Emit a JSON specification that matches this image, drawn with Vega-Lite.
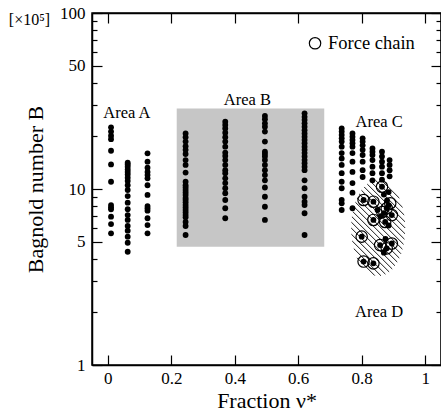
{
  "$schema": "https://vega.github.io/schema/vega-lite/v6.json",
  "width": 349,
  "height": 352,
  "autosize": {"type": "none"},
  "padding": {"left": 92, "top": 13, "right": 0, "bottom": 54},
  "background": "white",
  "config": {
    "view": {"stroke": "black", "strokeWidth": 1.5},
    "axis": {
      "labelFont": "Liberation Serif",
      "titleFont": "Liberation Serif",
      "labelColor": "black",
      "titleColor": "black",
      "domainColor": "black",
      "tickColor": "black",
      "domainWidth": 1.5,
      "tickWidth": 1.2,
      "grid": false,
      "labelFontSize": 17,
      "titleFontSize": 22,
      "titleFontWeight": "normal"
    }
  },
  "datasets": {
    "rectB": [{"x1": 0.217, "x2": 0.682, "y1": 4.7, "y2": 28.7}],
    "hatch": [
      {"x": 0.7854, "y": 4.063, "x2": 0.8414, "y2": 3.220},
      {"x": 0.7751, "y": 4.584, "x2": 0.8607, "y2": 3.215},
      {"x": 0.7701, "y": 5.064, "x2": 0.8749, "y2": 3.280},
      {"x": 0.7676, "y": 5.534, "x2": 0.8865, "y2": 3.381},
      {"x": 0.7669, "y": 6.003, "x2": 0.8963, "y2": 3.511},
      {"x": 0.7675, "y": 6.478, "x2": 0.9048, "y2": 3.665},
      {"x": 0.7692, "y": 6.956, "x2": 0.9121, "y2": 3.846},
      {"x": 0.7720, "y": 7.437, "x2": 0.9185, "y2": 4.052},
      {"x": 0.7757, "y": 7.925, "x2": 0.9239, "y2": 4.284},
      {"x": 0.7802, "y": 8.411, "x2": 0.9285, "y2": 4.548},
      {"x": 0.7856, "y": 8.895, "x2": 0.9321, "y2": 4.846},
      {"x": 0.7920, "y": 9.372, "x2": 0.9349, "y2": 5.183},
      {"x": 0.7993, "y": 9.833, "x2": 0.9366, "y2": 5.566},
      {"x": 0.8078, "y": 10.27, "x2": 0.9372, "y2": 6.003},
      {"x": 0.8176, "y": 10.66, "x2": 0.9365, "y2": 6.514},
      {"x": 0.8292, "y": 10.99, "x2": 0.9340, "y2": 7.118},
      {"x": 0.8434, "y": 11.21, "x2": 0.9290, "y2": 7.862},
      {"x": 0.8627, "y": 11.19, "x2": 0.9187, "y2": 8.874}
    ],
    "pts": [
      {"x": 0.01, "B": 22.4}, {"x": 0.01, "B": 21.2}, {"x": 0.01, "B": 20.1}, {"x": 0.01, "B": 19.2}, {"x": 0.01, "B": 16.5}, {"x": 0.01, "B": 13.8}, {"x": 0.01, "B": 11.0}, {"x": 0.01, "B": 8.1}, {"x": 0.01, "B": 7.87}, {"x": 0.01, "B": 7.67}, {"x": 0.01, "B": 6.96}, {"x": 0.01, "B": 6.32}, {"x": 0.01, "B": 5.6},
      {"x": 0.0625, "B": 14.1}, {"x": 0.0625, "B": 13.8}, {"x": 0.0625, "B": 13.4}, {"x": 0.0625, "B": 12.9}, {"x": 0.0625, "B": 12.5}, {"x": 0.0625, "B": 12.1}, {"x": 0.0625, "B": 11.6}, {"x": 0.0625, "B": 11.1}, {"x": 0.0625, "B": 10.5}, {"x": 0.0625, "B": 9.87}, {"x": 0.0625, "B": 9.12}, {"x": 0.0625, "B": 8.36}, {"x": 0.0625, "B": 7.67}, {"x": 0.0625, "B": 7.11}, {"x": 0.0625, "B": 6.67}, {"x": 0.0625, "B": 6.16}, {"x": 0.0625, "B": 5.8}, {"x": 0.0625, "B": 5.36}, {"x": 0.0625, "B": 4.95}, {"x": 0.0625, "B": 4.4},
      {"x": 0.125, "B": 15.95}, {"x": 0.125, "B": 14.3}, {"x": 0.125, "B": 13.2}, {"x": 0.125, "B": 12.5}, {"x": 0.125, "B": 12.0}, {"x": 0.125, "B": 11.5}, {"x": 0.125, "B": 10.5}, {"x": 0.125, "B": 9.25}, {"x": 0.125, "B": 8.0}, {"x": 0.125, "B": 7.77}, {"x": 0.125, "B": 7.53}, {"x": 0.125, "B": 6.82}, {"x": 0.125, "B": 6.24}, {"x": 0.125, "B": 5.6},
      {"x": 0.245, "B": 20.7}, {"x": 0.245, "B": 19.7}, {"x": 0.245, "B": 18.6}, {"x": 0.245, "B": 17.5}, {"x": 0.245, "B": 16.7}, {"x": 0.245, "B": 15.8}, {"x": 0.245, "B": 14.6}, {"x": 0.245, "B": 13.7}, {"x": 0.245, "B": 12.4}, {"x": 0.245, "B": 11.0}, {"x": 0.245, "B": 10.5}, {"x": 0.245, "B": 10.2}, {"x": 0.245, "B": 9.87}, {"x": 0.245, "B": 9.55}, {"x": 0.245, "B": 9.25}, {"x": 0.245, "B": 8.9}, {"x": 0.245, "B": 8.66}, {"x": 0.245, "B": 8.4}, {"x": 0.245, "B": 8.11}, {"x": 0.245, "B": 7.85}, {"x": 0.245, "B": 7.6}, {"x": 0.245, "B": 7.35}, {"x": 0.245, "B": 7.11}, {"x": 0.245, "B": 6.9}, {"x": 0.245, "B": 6.5}, {"x": 0.245, "B": 6.16}, {"x": 0.245, "B": 5.48},
      {"x": 0.37, "B": 24.1}, {"x": 0.37, "B": 23.1}, {"x": 0.37, "B": 22.1}, {"x": 0.37, "B": 20.9}, {"x": 0.37, "B": 19.7}, {"x": 0.37, "B": 18.6}, {"x": 0.37, "B": 17.4}, {"x": 0.37, "B": 16.1}, {"x": 0.37, "B": 15.4}, {"x": 0.37, "B": 14.6}, {"x": 0.37, "B": 13.7}, {"x": 0.37, "B": 12.8}, {"x": 0.37, "B": 12.3}, {"x": 0.37, "B": 11.5}, {"x": 0.37, "B": 10.8}, {"x": 0.37, "B": 10.1}, {"x": 0.37, "B": 9.46}, {"x": 0.37, "B": 8.66}, {"x": 0.37, "B": 7.77}, {"x": 0.37, "B": 6.82},
      {"x": 0.495, "B": 26.0}, {"x": 0.495, "B": 24.9}, {"x": 0.495, "B": 23.6}, {"x": 0.495, "B": 22.6}, {"x": 0.495, "B": 21.2}, {"x": 0.495, "B": 18.6}, {"x": 0.495, "B": 16.3}, {"x": 0.495, "B": 15.8}, {"x": 0.495, "B": 15.3}, {"x": 0.495, "B": 14.6}, {"x": 0.495, "B": 13.7}, {"x": 0.495, "B": 12.8}, {"x": 0.495, "B": 12.0}, {"x": 0.495, "B": 11.2}, {"x": 0.495, "B": 10.2}, {"x": 0.495, "B": 9.04}, {"x": 0.495, "B": 7.93}, {"x": 0.495, "B": 6.67},
      {"x": 0.62, "B": 26.9}, {"x": 0.62, "B": 25.7}, {"x": 0.62, "B": 24.7}, {"x": 0.62, "B": 23.6}, {"x": 0.62, "B": 22.6}, {"x": 0.62, "B": 21.6}, {"x": 0.62, "B": 20.7}, {"x": 0.62, "B": 19.8}, {"x": 0.62, "B": 19.0}, {"x": 0.62, "B": 18.2}, {"x": 0.62, "B": 17.4}, {"x": 0.62, "B": 16.7}, {"x": 0.62, "B": 16.0}, {"x": 0.62, "B": 15.3}, {"x": 0.62, "B": 14.6}, {"x": 0.62, "B": 14.0}, {"x": 0.62, "B": 13.4}, {"x": 0.62, "B": 12.8}, {"x": 0.62, "B": 11.2}, {"x": 0.62, "B": 10.1}, {"x": 0.62, "B": 9.04}, {"x": 0.62, "B": 8.47}, {"x": 0.62, "B": 8.11}, {"x": 0.62, "B": 7.28}, {"x": 0.62, "B": 5.48},
      {"x": 0.737, "B": 22.1}, {"x": 0.737, "B": 21.2}, {"x": 0.737, "B": 20.3}, {"x": 0.737, "B": 19.4}, {"x": 0.737, "B": 18.6}, {"x": 0.737, "B": 17.4}, {"x": 0.737, "B": 16.0}, {"x": 0.737, "B": 14.9}, {"x": 0.737, "B": 13.7}, {"x": 0.737, "B": 12.3}, {"x": 0.737, "B": 11.0}, {"x": 0.737, "B": 10.1}, {"x": 0.737, "B": 8.66}, {"x": 0.737, "B": 8.29}, {"x": 0.737, "B": 7.6},
      {"x": 0.771, "B": 20.7}, {"x": 0.771, "B": 19.8}, {"x": 0.771, "B": 19.0}, {"x": 0.771, "B": 18.2}, {"x": 0.771, "B": 17.4}, {"x": 0.771, "B": 16.0}, {"x": 0.771, "B": 14.3}, {"x": 0.771, "B": 12.5}, {"x": 0.771, "B": 10.8}, {"x": 0.771, "B": 9.53}, {"x": 0.771, "B": 7.77},
      {"x": 0.803, "B": 19.4}, {"x": 0.803, "B": 18.6}, {"x": 0.803, "B": 17.7}, {"x": 0.803, "B": 16.7}, {"x": 0.803, "B": 15.6}, {"x": 0.803, "B": 14.3}, {"x": 0.803, "B": 12.8}, {"x": 0.803, "B": 11.7},
      {"x": 0.834, "B": 17.0}, {"x": 0.834, "B": 16.3}, {"x": 0.834, "B": 15.6}, {"x": 0.834, "B": 14.6}, {"x": 0.834, "B": 13.4}, {"x": 0.834, "B": 12.3}, {"x": 0.834, "B": 11.2},
      {"x": 0.864, "B": 16.3}, {"x": 0.864, "B": 15.3}, {"x": 0.864, "B": 14.3}, {"x": 0.864, "B": 13.4}, {"x": 0.864, "B": 12.3}, {"x": 0.864, "B": 11.3},
      {"x": 0.888, "B": 14.6}, {"x": 0.888, "B": 13.7}, {"x": 0.888, "B": 12.8}, {"x": 0.888, "B": 11.8},
      {"x": 0.864, "B": 10.3}, {"x": 0.806, "B": 8.66}, {"x": 0.837, "B": 8.47}, {"x": 0.879, "B": 7.77}, {"x": 0.837, "B": 6.67}, {"x": 0.874, "B": 6.5}, {"x": 0.895, "B": 7.11}, {"x": 0.80, "B": 5.36}, {"x": 0.858, "B": 4.8}, {"x": 0.879, "B": 4.6}, {"x": 0.895, "B": 4.9}, {"x": 0.806, "B": 3.87}, {"x": 0.837, "B": 3.78},
      {"x": 0.87, "B": 9.3}, {"x": 0.88, "B": 8.6}, {"x": 0.885, "B": 8.1}, {"x": 0.87, "B": 7.3}, {"x": 0.86, "B": 7.0}, {"x": 0.885, "B": 6.2}, {"x": 0.875, "B": 5.2}, {"x": 0.87, "B": 4.35}, {"x": 0.885, "B": 9.6}, {"x": 0.85, "B": 7.6}
    ],
    "circ": [
      {"x": 0.864, "B": 10.3}, {"x": 0.806, "B": 8.66}, {"x": 0.837, "B": 8.47}, {"x": 0.879, "B": 7.77}, {"x": 0.837, "B": 6.67}, {"x": 0.874, "B": 6.5}, {"x": 0.895, "B": 7.11}, {"x": 0.80, "B": 5.36}, {"x": 0.858, "B": 4.8}, {"x": 0.879, "B": 4.6}, {"x": 0.895, "B": 4.9}, {"x": 0.806, "B": 3.87}, {"x": 0.837, "B": 3.78}, {"x": 0.865, "B": 7.4}, {"x": 0.89, "B": 8.3}
    ],
    "labels": [
      {"x": 0.06, "B": 27.0, "label": "Area A"},
      {"x": 0.44, "B": 32.0, "label": "Area B"},
      {"x": 0.855, "B": 24.0, "label": "Area C"},
      {"x": 0.855, "B": 2.0, "label": "Area D"}
    ],
    "corner": [{"x": -0.247, "B": 91.3, "label": "[×10⁵]"}],
    "legendPt": [{"x": 0.653, "B": 67.3}],
    "legendTx": [{"x": 0.694, "B": 67.3, "label": "Force chain"}]
  },
  "layer": [
    {
      "data": {"name": "rectB"},
      "mark": {"type": "rect", "fill": "#c6c6c6"},
      "encoding": {
        "x": {"field": "x1", "type": "quantitative", "scale": {"type": "linear", "domain": [-0.05, 1.05], "nice": false, "zero": false},
          "axis": {"orient": "bottom", "title": "Fraction ν*", "values": [0, 0.2, 0.4, 0.6, 0.8, 1], "format": "~g", "tickSize": -10, "labelPadding": 15, "titlePadding": 4}},
        "x2": {"field": "x2"},
        "y": {"field": "y1", "type": "quantitative", "scale": {"type": "log", "domain": [1, 100], "nice": false},
          "axis": {"orient": "left", "title": "Bagnold number B", "values": [1, 2, 3, 4, 5, 6, 7, 8, 9, 10, 20, 30, 40, 50, 60, 70, 80, 90, 100],
            "labelExpr": "indexof([1,5,10,50,100], datum.value) >= 0 ? '' + datum.value : ''",
            "tickSize": {"condition": {"test": "indexof([1,5,10,50,100], datum.value) >= 0", "value": -10}, "value": -5},
            "labelPadding": 17, "titlePadding": 12}},
        "y2": {"field": "y2"}
      }
    },
    {
      "data": {"name": "hatch"},
      "mark": {"type": "rule", "color": "black", "strokeWidth": 0.9},
      "encoding": {
        "x": {"field": "x", "type": "quantitative", "scale": {"type": "linear", "domain": [-0.05, 1.05], "nice": false, "zero": false}, "axis": null},
        "x2": {"field": "x2"},
        "y": {"field": "y", "type": "quantitative", "scale": {"type": "log", "domain": [1, 100], "nice": false}, "axis": null},
        "y2": {"field": "y2"}
      }
    },
    {
      "data": {"name": "pts"},
      "mark": {"type": "circle", "color": "black", "size": 34, "opacity": 1},
      "encoding": {
        "x": {"field": "x", "type": "quantitative", "scale": {"type": "linear", "domain": [-0.05, 1.05], "nice": false, "zero": false},
          "axis": {"orient": "top", "title": null, "labels": false, "values": [0, 0.2, 0.4, 0.6, 0.8, 1], "tickSize": -10}},
        "y": {"field": "B", "type": "quantitative", "scale": {"type": "log", "domain": [1, 100], "nice": false},
          "axis": {"orient": "right", "title": null, "labels": false, "values": [1, 2, 3, 4, 5, 6, 7, 8, 9, 10, 20, 30, 40, 50, 60, 70, 80, 90, 100],
            "tickSize": {"condition": {"test": "indexof([1,5,10,50,100], datum.value) >= 0", "value": -10}, "value": -5}}}
      }
    },
    {
      "data": {"name": "circ"},
      "mark": {"type": "point", "shape": "circle", "filled": false, "color": "black", "size": 130, "strokeWidth": 1.2, "opacity": 1},
      "encoding": {
        "x": {"field": "x", "type": "quantitative", "scale": {"type": "linear", "domain": [-0.05, 1.05], "nice": false, "zero": false}, "axis": null},
        "y": {"field": "B", "type": "quantitative", "scale": {"type": "log", "domain": [1, 100], "nice": false}, "axis": null}
      }
    },
    {
      "data": {"name": "legendPt"},
      "mark": {"type": "point", "shape": "circle", "filled": false, "color": "black", "size": 130, "strokeWidth": 1.2, "opacity": 1},
      "encoding": {
        "x": {"field": "x", "type": "quantitative", "scale": {"type": "linear", "domain": [-0.05, 1.05], "nice": false, "zero": false}, "axis": null},
        "y": {"field": "B", "type": "quantitative", "scale": {"type": "log", "domain": [1, 100], "nice": false}, "axis": null}
      }
    },
    {
      "data": {"name": "labels"},
      "mark": {"type": "text", "font": "Liberation Serif", "fontSize": 16.5, "color": "black", "align": "center", "baseline": "middle"},
      "encoding": {
        "x": {"field": "x", "type": "quantitative", "scale": {"type": "linear", "domain": [-0.05, 1.05], "nice": false, "zero": false}, "axis": null},
        "y": {"field": "B", "type": "quantitative", "scale": {"type": "log", "domain": [1, 100], "nice": false}, "axis": null},
        "text": {"field": "label"}
      }
    },
    {
      "data": {"name": "corner"},
      "mark": {"type": "text", "font": "Liberation Serif", "fontSize": 16, "color": "black", "align": "center", "baseline": "middle"},
      "encoding": {
        "x": {"field": "x", "type": "quantitative", "scale": {"type": "linear", "domain": [-0.05, 1.05], "nice": false, "zero": false}, "axis": null},
        "y": {"field": "B", "type": "quantitative", "scale": {"type": "log", "domain": [1, 100], "nice": false}, "axis": null},
        "text": {"field": "label"}
      }
    },
    {
      "data": {"name": "legendTx"},
      "mark": {"type": "text", "font": "Liberation Serif", "fontSize": 18.5, "color": "black", "align": "left", "baseline": "middle"},
      "encoding": {
        "x": {"field": "x", "type": "quantitative", "scale": {"type": "linear", "domain": [-0.05, 1.05], "nice": false, "zero": false}, "axis": null},
        "y": {"field": "B", "type": "quantitative", "scale": {"type": "log", "domain": [1, 100], "nice": false}, "axis": null},
        "text": {"field": "label"}
      }
    }
  ],
  "resolve": {"axis": {"x": "independent", "y": "independent"}}
}
